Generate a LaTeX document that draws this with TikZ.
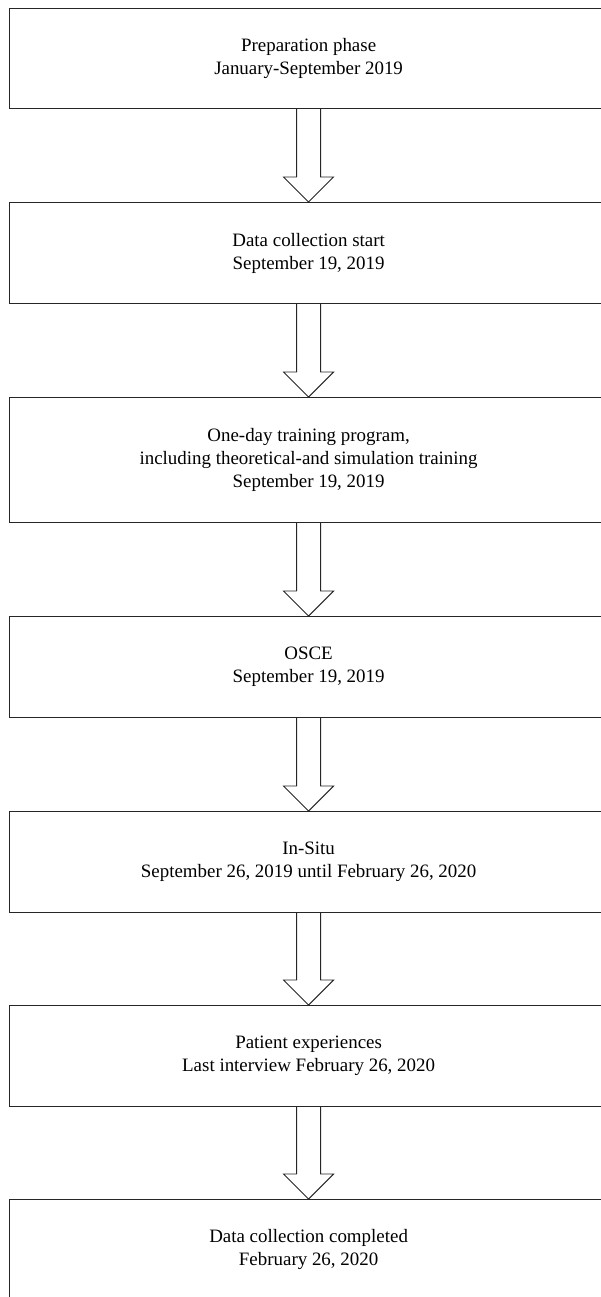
\documentclass[tikz,border=0pt]{standalone}
\usepackage{fontspec}
\setmainfont{Liberation Serif}
\usetikzlibrary{calc}
\begin{document}
\begin{tikzpicture}[x=1bp,y=-1bp,
  stage/.style={draw=black!85, line width=1.2bp, minimum width=598bp,
    anchor=north west, align=center, inner sep=0pt,
    font=\fontsize{19}{23}\selectfont},
  blockarrow/.style={draw=black!85, line width=0.9bp, line join=miter}]
\useasboundingbox (0,0) rectangle (601,1297);
\clip (0,0) rectangle (601,1297);
\node[stage, minimum height=100bp] (b1) at (9,8) {Preparation phase\\January-September 2019};
\node[stage, minimum height=101bp] (b2) at (9,202) {Data collection start\\September 19, 2019};
\node[stage, minimum height=125bp] (b3) at (9,397) {One-day training program,\\including theoretical-and simulation training\\September 19, 2019};
\node[stage, minimum height=101bp] (b4) at (9,616) {OSCE\\September 19, 2019};
\node[stage, minimum height=101bp] (b5) at (9,811) {In-Situ\\September 26, 2019 until February 26, 2020};
\node[stage, minimum height=101bp] (b6) at (9,1005) {Patient experiences\\Last interview February 26, 2020};
\node[stage, minimum height=100bp] (b7) at (9,1199) {Data collection completed\\February 26, 2020};
\foreach \a/\b in {b1/b2,b2/b3,b3/b4,b4/b5,b5/b6,b6/b7}{
  \draw[blockarrow] ($(\a.south)+(-12,0)$) -- ($(\b.north)+(-12,-25)$)
    -- ($(\b.north)+(-25,-25)$) -- (\b.north) -- ($(\b.north)+(25,-25)$)
    -- ($(\b.north)+(12,-25)$) -- ($(\a.south)+(12,0)$);
}
\end{tikzpicture}
\end{document}
